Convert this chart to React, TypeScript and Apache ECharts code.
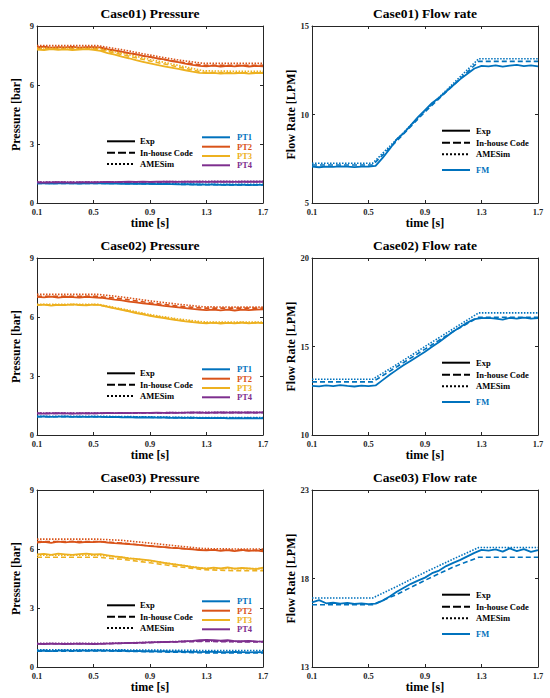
import React, { useEffect, useRef } from "react";
import * as echarts from "echarts";

// ---------- axis ticks ----------
const timeTicks = [0.1, 0.5, 0.9, 1.3, 1.7];
const pressureTicks = [0, 3, 6, 9];
const flowTicks1 = [5, 10, 15];
const flowTicks2 = [10, 15, 20];
const flowTicks3 = [13, 18, 23];

// ---------- time bases ----------
const timeExp = [0.1, 0.15, 0.2, 0.25, 0.3, 0.35, 0.4, 0.45, 0.5, 0.55, 0.6, 0.65, 0.7, 0.75, 0.8, 0.85, 0.9, 0.95, 1.0, 1.05, 1.1, 1.15, 1.2, 1.25, 1.3, 1.35, 1.4, 1.45, 1.5, 1.55, 1.6, 1.65, 1.7];
const timeSim = [0.1, 0.3, 0.53, 0.7, 0.9, 1.1, 1.28, 1.5, 1.7];

// ---------- Case01 pressure ----------
const c1_PT1_exp = [1.0, 1.01, 0.99, 1.0, 1.01, 1.0, 0.99, 1.0, 1.01, 1.0, 0.99, 1.0, 0.98, 0.99, 0.98, 0.97, 0.98, 0.96, 0.97, 0.96, 0.95, 0.96, 0.94, 0.95, 0.93, 0.94, 0.92, 0.93, 0.92, 0.93, 0.91, 0.92, 0.92];
const c1_PT1_code = [1.0, 1.0, 1.0, 0.99, 0.97, 0.95, 0.93, 0.92, 0.92];
const c1_PT1_ames = [1.02, 1.02, 1.02, 1.01, 0.99, 0.97, 0.95, 0.95, 0.95];
const c1_PT2_exp = [7.92, 7.95, 7.9, 7.93, 7.91, 7.94, 7.9, 7.92, 7.93, 7.91, 7.82, 7.76, 7.7, 7.62, 7.57, 7.48, 7.43, 7.35, 7.3, 7.22, 7.16, 7.09, 7.02, 6.97, 6.95, 6.98, 6.94, 6.97, 6.95, 6.98, 6.94, 6.97, 6.95];
const c1_PT2_code = [7.88, 7.88, 7.88, 7.68, 7.42, 7.18, 7.0, 7.0, 7.0];
const c1_PT2_ames = [8.0, 8.0, 8.0, 7.8, 7.52, 7.27, 7.1, 7.1, 7.1];
const c1_PT3_exp = [7.8, 7.78, 7.82, 7.79, 7.81, 7.78, 7.8, 7.82, 7.79, 7.74, 7.62, 7.55, 7.44, 7.36, 7.26, 7.18, 7.1, 7.02, 6.95, 6.88, 6.82, 6.75, 6.68, 6.62, 6.6, 6.62, 6.58, 6.61, 6.59, 6.62, 6.58, 6.61, 6.6];
const c1_PT3_code = [7.82, 7.82, 7.82, 7.55, 7.22, 6.92, 6.64, 6.62, 6.62];
const c1_PT3_ames = [7.88, 7.88, 7.88, 7.62, 7.3, 7.0, 6.72, 6.7, 6.7];
const c1_PT4_exp = [1.05, 1.04, 1.05, 1.06, 1.05, 1.04, 1.05, 1.06, 1.05, 1.06, 1.07, 1.06, 1.07, 1.08, 1.07, 1.08, 1.07, 1.08, 1.09, 1.08, 1.07, 1.08, 1.09, 1.08, 1.07, 1.08, 1.09, 1.08, 1.07, 1.08, 1.09, 1.08, 1.08];
const c1_PT4_code = [1.05, 1.05, 1.05, 1.06, 1.07, 1.08, 1.08, 1.08, 1.08];
const c1_PT4_ames = [1.06, 1.06, 1.06, 1.07, 1.08, 1.09, 1.1, 1.1, 1.1];

// ---------- Case01 flow ----------
const c1_FM_exp = [7.05, 7.02, 7.06, 7.04, 7.07, 7.05, 7.03, 7.06, 7.05, 7.1, 7.55, 8.05, 8.6, 8.95, 9.4, 9.85, 10.25, 10.65, 10.95, 11.3, 11.65, 12.0, 12.3, 12.6, 12.75, 12.72, 12.78, 12.7, 12.76, 12.8, 12.73, 12.78, 12.72];
const c1_FM_code = [7.15, 7.15, 7.15, 8.5, 10.15, 11.65, 13.0, 13.0, 13.0];
const c1_FM_ames = [7.25, 7.25, 7.25, 8.6, 10.2, 11.75, 13.15, 13.15, 13.15];

// ---------- Case02 pressure ----------
const c2_PT1_exp = [0.93, 0.94, 0.92, 0.93, 0.94, 0.92, 0.93, 0.92, 0.93, 0.92, 0.91, 0.92, 0.9, 0.91, 0.89, 0.9, 0.89, 0.88, 0.89, 0.87, 0.88, 0.87, 0.88, 0.86, 0.87, 0.86, 0.87, 0.85, 0.86, 0.85, 0.86, 0.85, 0.85];
const c2_PT1_code = [0.93, 0.93, 0.93, 0.92, 0.9, 0.88, 0.86, 0.86, 0.86];
const c2_PT1_ames = [0.95, 0.95, 0.95, 0.94, 0.92, 0.9, 0.89, 0.89, 0.89];
const c2_PT2_exp = [7.02, 7.0, 7.04, 6.98, 7.03, 7.01, 6.99, 7.03, 7.0, 6.98, 6.93, 6.88, 6.84, 6.78, 6.74, 6.69, 6.66, 6.62, 6.57, 6.53, 6.49, 6.45, 6.41, 6.38, 6.35, 6.38, 6.34, 6.37, 6.33, 6.38, 6.35, 6.37, 6.39];
const c2_PT2_code = [7.05, 7.05, 7.05, 6.92, 6.72, 6.55, 6.45, 6.45, 6.45];
const c2_PT2_ames = [7.15, 7.15, 7.15, 7.02, 6.82, 6.65, 6.52, 6.5, 6.5];
const c2_PT3_exp = [6.6, 6.63, 6.58, 6.62, 6.6, 6.64, 6.61, 6.59, 6.63, 6.6, 6.52, 6.44, 6.36, 6.28, 6.2, 6.13, 6.06, 6.0, 5.94, 5.88, 5.83, 5.78, 5.74, 5.7, 5.68, 5.71, 5.67, 5.7, 5.68, 5.72, 5.68, 5.71, 5.69];
const c2_PT3_code = [6.62, 6.62, 6.62, 6.38, 6.08, 5.85, 5.7, 5.7, 5.7];
const c2_PT3_ames = [6.65, 6.65, 6.65, 6.42, 6.12, 5.9, 5.75, 5.74, 5.74];
const c2_PT4_exp = [1.1, 1.09, 1.1, 1.11, 1.1, 1.09, 1.1, 1.11, 1.1, 1.11, 1.12, 1.11, 1.12, 1.11, 1.13, 1.12, 1.13, 1.14, 1.13, 1.14, 1.13, 1.14, 1.15, 1.14, 1.13, 1.14, 1.15, 1.14, 1.15, 1.14, 1.15, 1.14, 1.15];
const c2_PT4_code = [1.1, 1.1, 1.1, 1.11, 1.12, 1.13, 1.14, 1.14, 1.14];
const c2_PT4_ames = [1.11, 1.11, 1.11, 1.12, 1.13, 1.14, 1.15, 1.15, 1.15];

// ---------- Case02 flow ----------
const c2_FM_exp = [12.78, 12.75, 12.8, 12.76, 12.82, 12.77, 12.74, 12.79, 12.76, 12.8, 13.1, 13.4, 13.68, 13.95, 14.2, 14.45, 14.7, 14.98, 15.25, 15.55, 15.85, 16.1, 16.35, 16.55, 16.6, 16.62, 16.58, 16.52, 16.62, 16.57, 16.63, 16.58, 16.6];
const c2_FM_code = [13.0, 13.0, 13.0, 13.85, 14.85, 15.85, 16.65, 16.65, 16.65];
const c2_FM_ames = [13.15, 13.15, 13.15, 13.98, 15.0, 16.0, 16.9, 16.9, 16.9];

// ---------- Case03 pressure ----------
const c3_PT1_exp = [0.82, 0.84, 0.81, 0.83, 0.85, 0.82, 0.84, 0.83, 0.85, 0.84, 0.83, 0.82, 0.84, 0.81, 0.82, 0.8, 0.81, 0.79, 0.8, 0.78, 0.79, 0.77, 0.78, 0.76, 0.77, 0.78, 0.76, 0.75, 0.77, 0.76, 0.74, 0.76, 0.75];
const c3_PT1_code = [0.8, 0.8, 0.82, 0.8, 0.78, 0.75, 0.72, 0.72, 0.72];
const c3_PT1_ames = [0.88, 0.88, 0.88, 0.87, 0.86, 0.85, 0.84, 0.84, 0.84];
const c3_PT2_exp = [6.33, 6.36, 6.31, 6.37, 6.34, 6.38, 6.33, 6.36, 6.35, 6.37, 6.33, 6.3, 6.28, 6.25, 6.22, 6.18, 6.15, 6.12, 6.1, 6.06, 6.04, 6.01, 5.98, 5.95, 5.93, 5.96, 5.9, 5.94, 5.89, 5.95, 5.9, 5.93, 5.88];
const c3_PT2_code = [6.38, 6.38, 6.38, 6.3, 6.16, 6.04, 5.95, 5.93, 5.93];
const c3_PT2_ames = [6.5, 6.5, 6.5, 6.44, 6.3, 6.15, 6.02, 6.0, 6.0];
const c3_PT3_exp = [5.72, 5.75, 5.7, 5.76, 5.73, 5.7, 5.74, 5.76, 5.72, 5.74, 5.68, 5.62, 5.58, 5.52, 5.5, 5.46, 5.42, 5.36, 5.3, 5.24, 5.19, 5.14, 5.08, 5.04, 5.0, 5.05, 5.02, 5.06, 5.0, 5.04, 5.01, 4.98, 5.05];
const c3_PT3_code = [5.58, 5.58, 5.58, 5.48, 5.3, 5.1, 4.95, 4.9, 4.9];
const c3_PT3_ames = [5.68, 5.68, 5.68, 5.58, 5.4, 5.2, 5.02, 5.0, 5.0];
const c3_PT4_exp = [1.18, 1.17, 1.19, 1.18, 1.17, 1.18, 1.19, 1.18, 1.17, 1.18, 1.19, 1.2, 1.21, 1.22, 1.23, 1.24, 1.25, 1.26, 1.27, 1.28, 1.29, 1.31, 1.33, 1.36, 1.38, 1.37, 1.34, 1.36, 1.32, 1.31, 1.33, 1.3, 1.29];
const c3_PT4_code = [1.18, 1.18, 1.18, 1.2, 1.24, 1.28, 1.3, 1.28, 1.28];
const c3_PT4_ames = [1.2, 1.2, 1.2, 1.22, 1.26, 1.3, 1.32, 1.3, 1.3];

// ---------- Case03 flow ----------
const c3_FM_exp = [16.65, 16.78, 16.6, 16.63, 16.58, 16.62, 16.56, 16.6, 16.55, 16.58, 16.75, 16.98, 17.25, 17.48, 17.7, 17.88, 18.05, 18.3, 18.45, 18.7, 18.88, 19.05, 19.25, 19.45, 19.62, 19.58, 19.65, 19.52, 19.7, 19.55, 19.66, 19.5, 19.6];
const c3_FM_code = [16.52, 16.52, 16.52, 17.1, 17.9, 18.65, 19.2, 19.2, 19.2];
const c3_FM_ames = [16.9, 16.9, 16.9, 17.55, 18.35, 19.1, 19.75, 19.75, 19.75];

// ---------- labels ----------
const titles = ["Case01) Pressure", "Case01) Flow rate", "Case02) Pressure", "Case02) Flow rate", "Case03) Pressure", "Case03) Flow rate"];
const methodNames = ["Exp", "In-house Code", "AMESim"];
const sensorNames = ["PT1", "PT2", "PT3", "PT4"];

const COLORS: Record<string, string> = { PT1: "#0072BD", PT2: "#D95319", PT3: "#EDB120", PT4: "#7E2F8E", FM: "#0072BD" };
const FONT = "'Liberation Serif', 'Times New Roman', serif";
const AXIS_COLOR = "#262626";
const DASHED = [5, 3];
const DOTTED = [1.5, 1.5];

type Triple = [number[], number[], number[]];
interface Panel {
  kind: "p" | "f";
  yTicks: number[];
  yName: string;
  sensors: Record<string, Triple>;
}

const panels: Panel[] = [
  { kind: "p", yTicks: pressureTicks, yName: "Pressure [bar]", sensors: { PT1: [c1_PT1_exp, c1_PT1_code, c1_PT1_ames], PT2: [c1_PT2_exp, c1_PT2_code, c1_PT2_ames], PT3: [c1_PT3_exp, c1_PT3_code, c1_PT3_ames], PT4: [c1_PT4_exp, c1_PT4_code, c1_PT4_ames] } },
  { kind: "f", yTicks: flowTicks1, yName: "Flow Rate [LPM]", sensors: { FM: [c1_FM_exp, c1_FM_code, c1_FM_ames] } },
  { kind: "p", yTicks: pressureTicks, yName: "Pressure [bar]", sensors: { PT1: [c2_PT1_exp, c2_PT1_code, c2_PT1_ames], PT2: [c2_PT2_exp, c2_PT2_code, c2_PT2_ames], PT3: [c2_PT3_exp, c2_PT3_code, c2_PT3_ames], PT4: [c2_PT4_exp, c2_PT4_code, c2_PT4_ames] } },
  { kind: "f", yTicks: flowTicks2, yName: "Flow Rate [LPM]", sensors: { FM: [c2_FM_exp, c2_FM_code, c2_FM_ames] } },
  { kind: "p", yTicks: pressureTicks, yName: "Pressure [bar]", sensors: { PT1: [c3_PT1_exp, c3_PT1_code, c3_PT1_ames], PT2: [c3_PT2_exp, c3_PT2_code, c3_PT2_ames], PT3: [c3_PT3_exp, c3_PT3_code, c3_PT3_ames], PT4: [c3_PT4_exp, c3_PT4_code, c3_PT4_ames] } },
  { kind: "f", yTicks: flowTicks3, yName: "Flow Rate [LPM]", sensors: { FM: [c3_FM_exp, c3_FM_code, c3_FM_ames] } },
];

const GRID_LEFT = [37, 312];
const GRID_TOP = [26, 258, 490];
const GRID_W = 226;
const GRID_H = 177;

function zip(xs: number[], ys: number[]) {
  return ys.map((y, i) => [xs[i], y]);
}

function buildOption() {
  const grid: any[] = [];
  const xAxis: any[] = [];
  const yAxis: any[] = [];
  const series: any[] = [];
  const title: any[] = [];
  const graphic: any[] = [];

  const lineStyle = { color: AXIS_COLOR, width: 1 };

  panels.forEach((p, i) => {
    const col = i % 2;
    const row = Math.floor(i / 2);
    const gl = GRID_LEFT[col];
    const gt = GRID_TOP[row];
    grid.push({ left: gl, top: gt, width: GRID_W, height: GRID_H, containLabel: false });

    const tickCommon = { show: true, inside: true, length: 3, lineStyle };
    xAxis.push({
      gridIndex: i, type: "value", position: "bottom", min: timeTicks[0], max: timeTicks[timeTicks.length - 1],
      axisLine: { show: true, onZero: false, lineStyle },
      axisTick: { ...tickCommon, customValues: timeTicks },
      axisLabel: { show: true, customValues: timeTicks, formatter: (v: number) => v.toFixed(1), fontFamily: FONT, fontWeight: "bold", fontSize: 8.5, color: AXIS_COLOR, margin: 4 },
      splitLine: { show: false },
      name: "time [s]", nameLocation: "middle", nameGap: 12,
      nameTextStyle: { fontFamily: FONT, fontWeight: "bold", fontSize: 12, color: "#000" },
    });
    xAxis.push({
      gridIndex: i, type: "value", position: "top", min: timeTicks[0], max: timeTicks[timeTicks.length - 1],
      axisLine: { show: true, onZero: false, lineStyle },
      axisTick: { ...tickCommon, customValues: timeTicks },
      axisLabel: { show: false },
      splitLine: { show: false },
    });
    const yMin = p.yTicks[0];
    const yMax = p.yTicks[p.yTicks.length - 1];
    yAxis.push({
      gridIndex: i, type: "value", position: "left", min: yMin, max: yMax,
      axisLine: { show: true, onZero: false, lineStyle },
      axisTick: { ...tickCommon, customValues: p.yTicks },
      axisLabel: { show: true, customValues: p.yTicks, formatter: (v: number) => String(v), fontFamily: FONT, fontWeight: "bold", fontSize: 8.5, color: AXIS_COLOR, margin: 3 },
      splitLine: { show: false },
      name: p.yName, nameLocation: "middle", nameGap: 15,
      nameTextStyle: { fontFamily: FONT, fontWeight: "bold", fontSize: 12, color: "#000" },
    });
    yAxis.push({
      gridIndex: i, type: "value", position: "right", min: yMin, max: yMax,
      axisLine: { show: true, onZero: false, lineStyle },
      axisTick: { ...tickCommon, customValues: p.yTicks },
      axisLabel: { show: false },
      splitLine: { show: false },
    });

    title.push({
      text: titles[i], left: gl + GRID_W / 2, top: gt - 20, textAlign: "center", padding: 0,
      textStyle: { fontFamily: FONT, fontWeight: "bold", fontSize: 13.5, color: "#000" },
    });

    Object.keys(p.sensors).forEach((name) => {
      const [exp, code, ames] = p.sensors[name];
      const color = COLORS[name];
      const base = { type: "line", xAxisIndex: i * 2, yAxisIndex: i * 2, showSymbol: false, symbol: "none", silent: true };
      series.push({ ...base, name: `${titles[i]} ${name} Exp`, data: zip(timeExp, exp), lineStyle: { color, width: 1.8, type: "solid" } });
      series.push({ ...base, name: `${titles[i]} ${name} In-house Code`, data: zip(timeSim, code), lineStyle: { color, width: 1.6, type: DASHED } });
      series.push({ ...base, name: `${titles[i]} ${name} AMESim`, data: zip(timeSim, ames), lineStyle: { color, width: 1.6, type: DOTTED } });
    });

    // legends (drawn as graphic)
    const dashes = [null, [8, 3], [2, 2]];
    const legendText = (x: number, y: number, text: string, color: string) => ({
      type: "text", x, y, style: { text, fill: color, font: `bold 8.5px ${FONT}`, textVerticalAlign: "middle", verticalAlign: "middle" },
    });
    const legendLine = (x1: number, x2: number, y: number, color: string, dash: any) => ({
      type: "line", shape: { x1, y1: y, x2, y2: y }, style: { stroke: color, lineWidth: 2, lineDash: dash || undefined },
    });
    if (p.kind === "p") {
      const rowsL = [115.3, 126.7, 138];
      methodNames.forEach((m, k) => {
        graphic.push(legendLine(gl + 70, gl + 98, gt + rowsL[k], "#000", dashes[k]));
        graphic.push(legendText(gl + 103, gt + rowsL[k], m, "#000"));
      });
      const rowsR = [111.3, 120.7, 130, 139.3];
      sensorNames.forEach((s, k) => {
        graphic.push(legendLine(gl + 165, gl + 193, gt + rowsR[k], COLORS[s], null));
        graphic.push(legendText(gl + 200, gt + rowsR[k], s, COLORS[s]));
      });
    } else {
      const rows = [104.7, 116.7, 128.3];
      methodNames.forEach((m, k) => {
        graphic.push(legendLine(gl + 130, gl + 158, gt + rows[k], "#000", dashes[k]));
        graphic.push(legendText(gl + 164, gt + rows[k], m, "#000"));
      });
      graphic.push(legendLine(gl + 130, gl + 158, gt + 144, COLORS.FM, null));
      graphic.push(legendText(gl + 164, gt + 144, "FM", COLORS.FM));
    }
  });

  return {
    animation: false,
    backgroundColor: "#fff",
    title,
    grid,
    xAxis,
    yAxis,
    series,
    graphic,
  };
}

export default function App() {
  const ref = useRef<HTMLDivElement>(null);
  useEffect(() => {
    if (!ref.current) return;
    const chart = echarts.init(ref.current, undefined, { renderer: "svg" });
    chart.setOption(buildOption() as any);
    return () => chart.dispose();
  }, []);
  return <div ref={ref} style={{ position: "absolute", left: 0, top: 0, width: 550, height: 698 }} />;
}
